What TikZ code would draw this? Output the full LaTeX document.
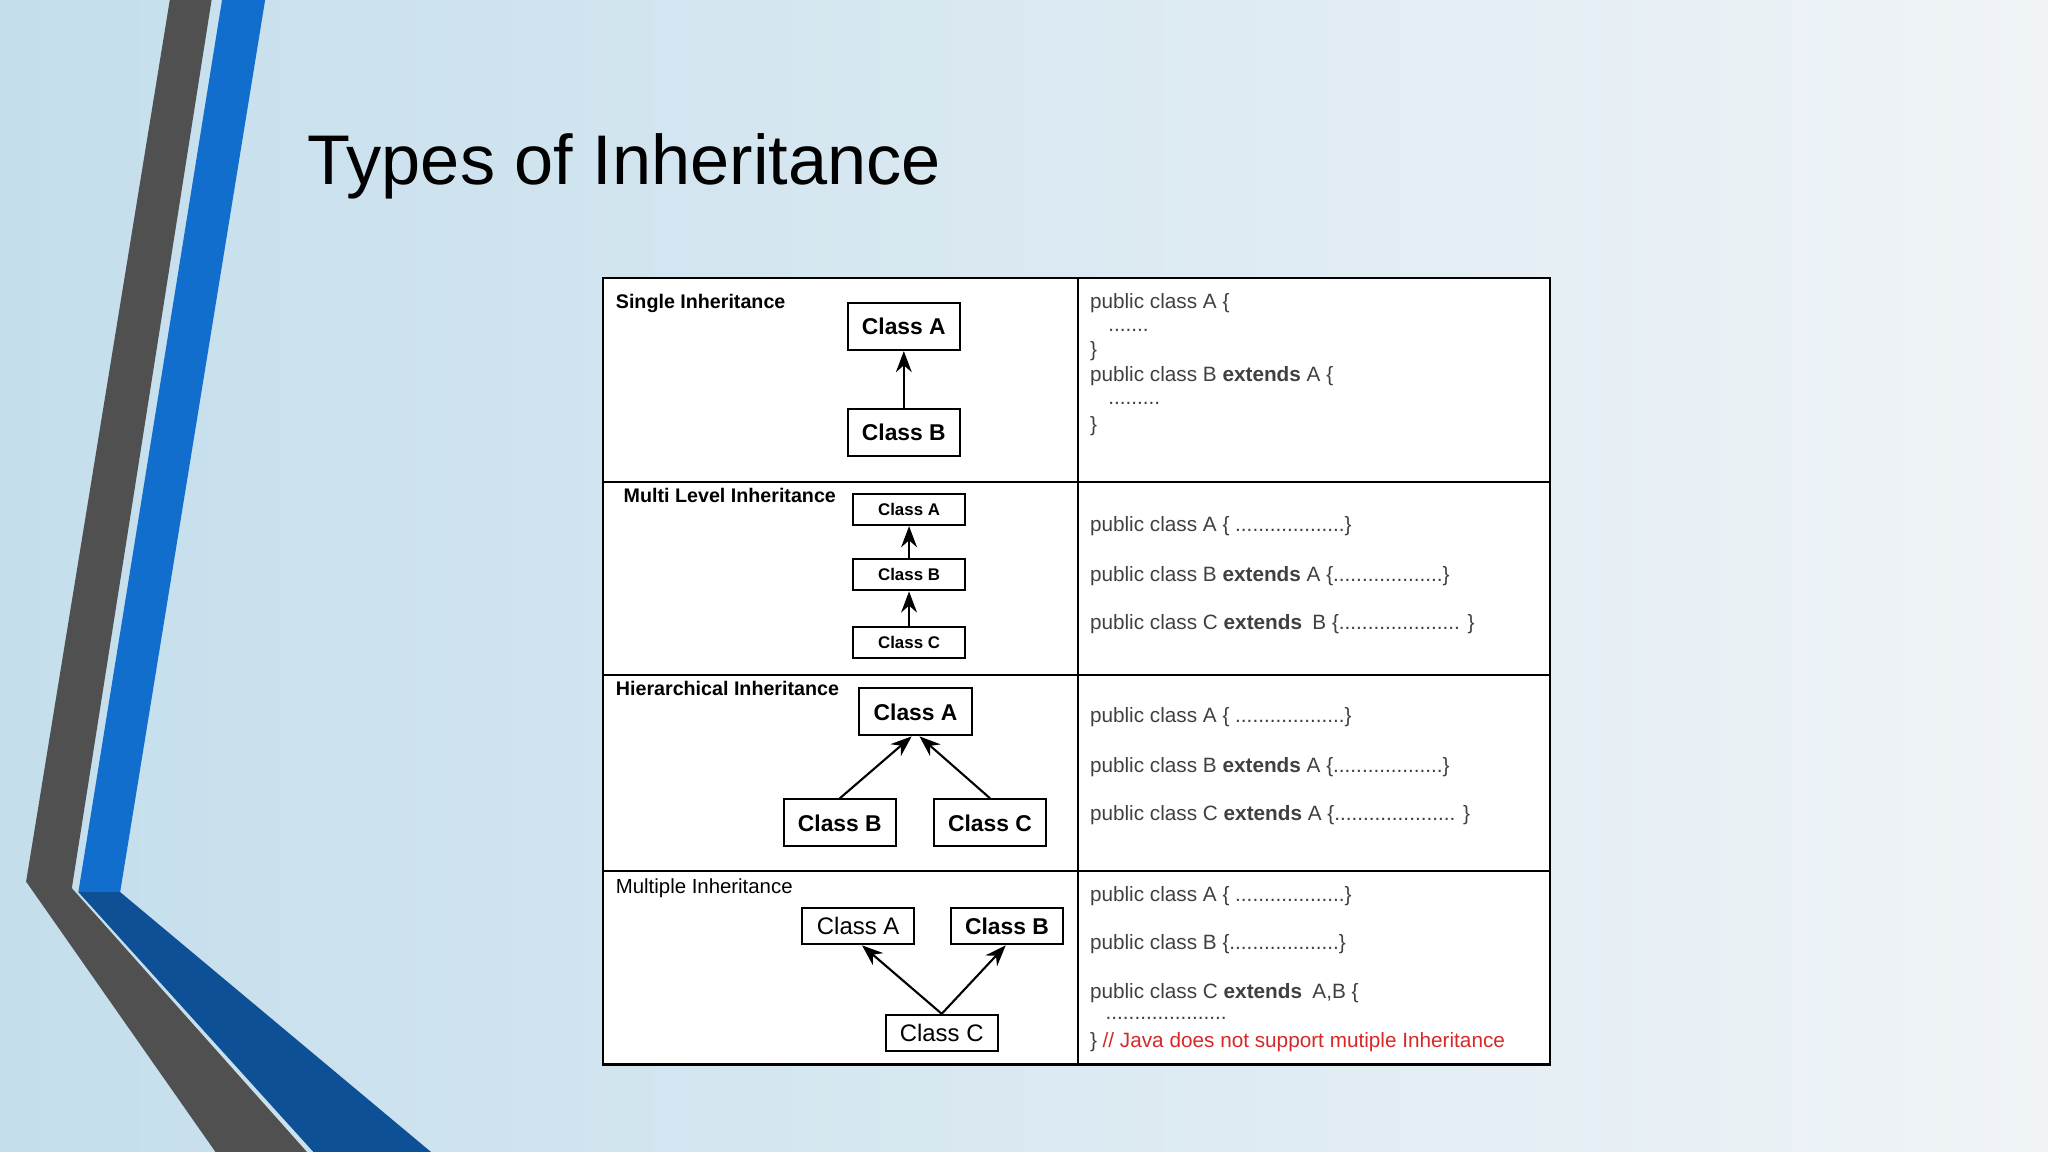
\documentclass[tikz,border=0pt]{standalone}
\usepackage{fontspec}
\setmainfont{Liberation Sans}
\usetikzlibrary{arrows.meta}
\definecolor{bgblue}{RGB}{196,222,236}
\definecolor{bgwhite}{RGB}{240,244,247}
\definecolor{stripeblue}{RGB}{18,110,205}
\definecolor{darkblue}{RGB}{14,80,150}
\definecolor{stripegray}{RGB}{80,80,80}
\definecolor{codered}{RGB}{215,40,40}
\newlength{\pxu}
\setlength{\pxu}{0.01306cm}
\tikzset{
  cls/.style={draw, semithick, minimum width=86\pxu, inner sep=0pt, font=\fontsize{6.5}{8}\selectfont\bfseries},
  smallcls/.style={cls, minimum height=24\pxu, font=\fontsize{4.8}{6}\selectfont\bfseries},
  heading/.style={anchor=west, inner sep=0pt, font=\fontsize{5.6}{7}\selectfont\bfseries},
  code/.style={anchor=west, font=\fontsize{5.9}{7}\selectfont, text=black!75, inner sep=0pt},
  inh/.style={-{Stealth[length=6pt,width=4.5pt]}, semithick}
}
\begin{document}
\begin{tikzpicture}[x=0.01306cm, y=-0.01306cm]

                  % background and side stripes
                  \shade[left color=bgblue, right color=bgwhite] (0,0) rectangle (1568,882);
                  \useasboundingbox (0,0) rectangle (1568,882);
                  \fill[stripegray] (130,0) -- (162,0) -- (55,680) -- (235,882) -- (165,882) -- (20,675) -- cycle;
                  \fill[stripeblue] (170,0) -- (203,0) -- (92,683) -- (60,683) -- cycle;
                  \fill[darkblue] (60,683) -- (92,683) -- (330,882) -- (240,882) -- cycle;

                  \node[anchor=west, inner sep=0pt, font=\fontsize{20}{24}\selectfont] (title) at (235,127) {Types of Inheritance};

                  % table
                  \fill[white] (462,213) rectangle (1187,815);
                  \draw[semithick] (462,213) rectangle (1187,815);
                  \draw[semithick] (825,213) -- (825,815);
                  \foreach \y in {369,517,667} \draw[semithick] (462,\y) -- (1187,\y);

                  % single
                  \node[heading] (hs) at (471,232) {Single Inheritance};
                  \node[cls, minimum height=36\pxu] (sa) at (692,250) {Class A};
                  \node[cls, minimum height=36\pxu] (sb) at (692,331) {Class B};
                  \draw[inh] (sb) -- (sa);
                  \node[code] (s1) at (834,232) {public class A \{};
                  \node[code] (s2) at (848,253) {.......};
                  \node[code] (s3) at (834,269) {\}};
                  \node[code] (s4) at (834,288) {public class B \textbf{extends} A \{};
                  \node[code] (s5) at (848,309) {.........};
                  \node[code] (s6) at (834,326) {\}};

                  % multi level
                  \node[heading] (hm) at (477,379) {Multi Level Inheritance};
                  \node[smallcls] (ma) at (696,390) {Class A};
                  \node[smallcls] (mb) at (696,440) {Class B};
                  \node[smallcls] (mc) at (696,492) {Class C};
                  \draw[inh] (mb) -- (ma);
                  \draw[inh] (mc) -- (mb);
                  \node[code] (m1) at (834,403) {public class A \{ ...................\}};
                  \node[code] (m2) at (834,441) {public class B \textbf{extends} A \{...................\}};
                  \node[code] (m3) at (834,478) {public class C \textbf{extends}\enspace B \{..................... \}};

                  % hierarchical
                  \node[heading] (hh) at (471,527) {Hierarchical Inheritance};
                  \node[cls, minimum height=36\pxu] (ha) at (701,545) {Class A};
                  \node[cls, minimum height=36\pxu] (hb) at (643,630) {Class B};
                  \node[cls, minimum height=36\pxu] (hc) at (758,630) {Class C};
                  \draw[inh] (hb.north) -- ([xshift=-3\pxu]ha.south);
                  \draw[inh] (hc.north) -- ([xshift=3\pxu]ha.south);
                  \node[code] (h1) at (834,549) {public class A \{ ...................\}};
                  \node[code] (h2) at (834,587) {public class B \textbf{extends} A \{...................\}};
                  \node[code] (h3) at (834,624) {public class C \textbf{extends} A \{..................... \}};

                  % multiple
                  \node[heading, font=\fontsize{5.8}{7}\selectfont] (hp) at (471,680) {Multiple Inheritance};
                  \node[cls, minimum height=28\pxu, font=\fontsize{6.8}{8}\selectfont] (pa) at (657,709) {Class A};
                  \node[cls, minimum height=28\pxu] (pb) at (771,709) {Class B};
                  \node[cls, minimum height=28\pxu, font=\fontsize{6.8}{8}\selectfont] (pc) at (721,791) {Class C};
                  \draw[inh] (pc.north) -- ([xshift=3\pxu]pa.south);
                  \draw[inh] (pc.north) -- ([xshift=-1\pxu]pb.south);
                  \node[code] (p1) at (834,686) {public class A \{ ...................\}};
                  \node[code] (p2) at (834,723) {public class B \{...................\}};
                  \node[code] (p3) at (834,760) {public class C \textbf{extends}\enspace A,B \{};
                  \node[code] (p4) at (846,780) {.....................};
                  \node[code] (p5) at (834,798) {\} \textcolor{codered}{// Java does not support mutiple Inheritance}};

              \end{tikzpicture}
\end{document}
